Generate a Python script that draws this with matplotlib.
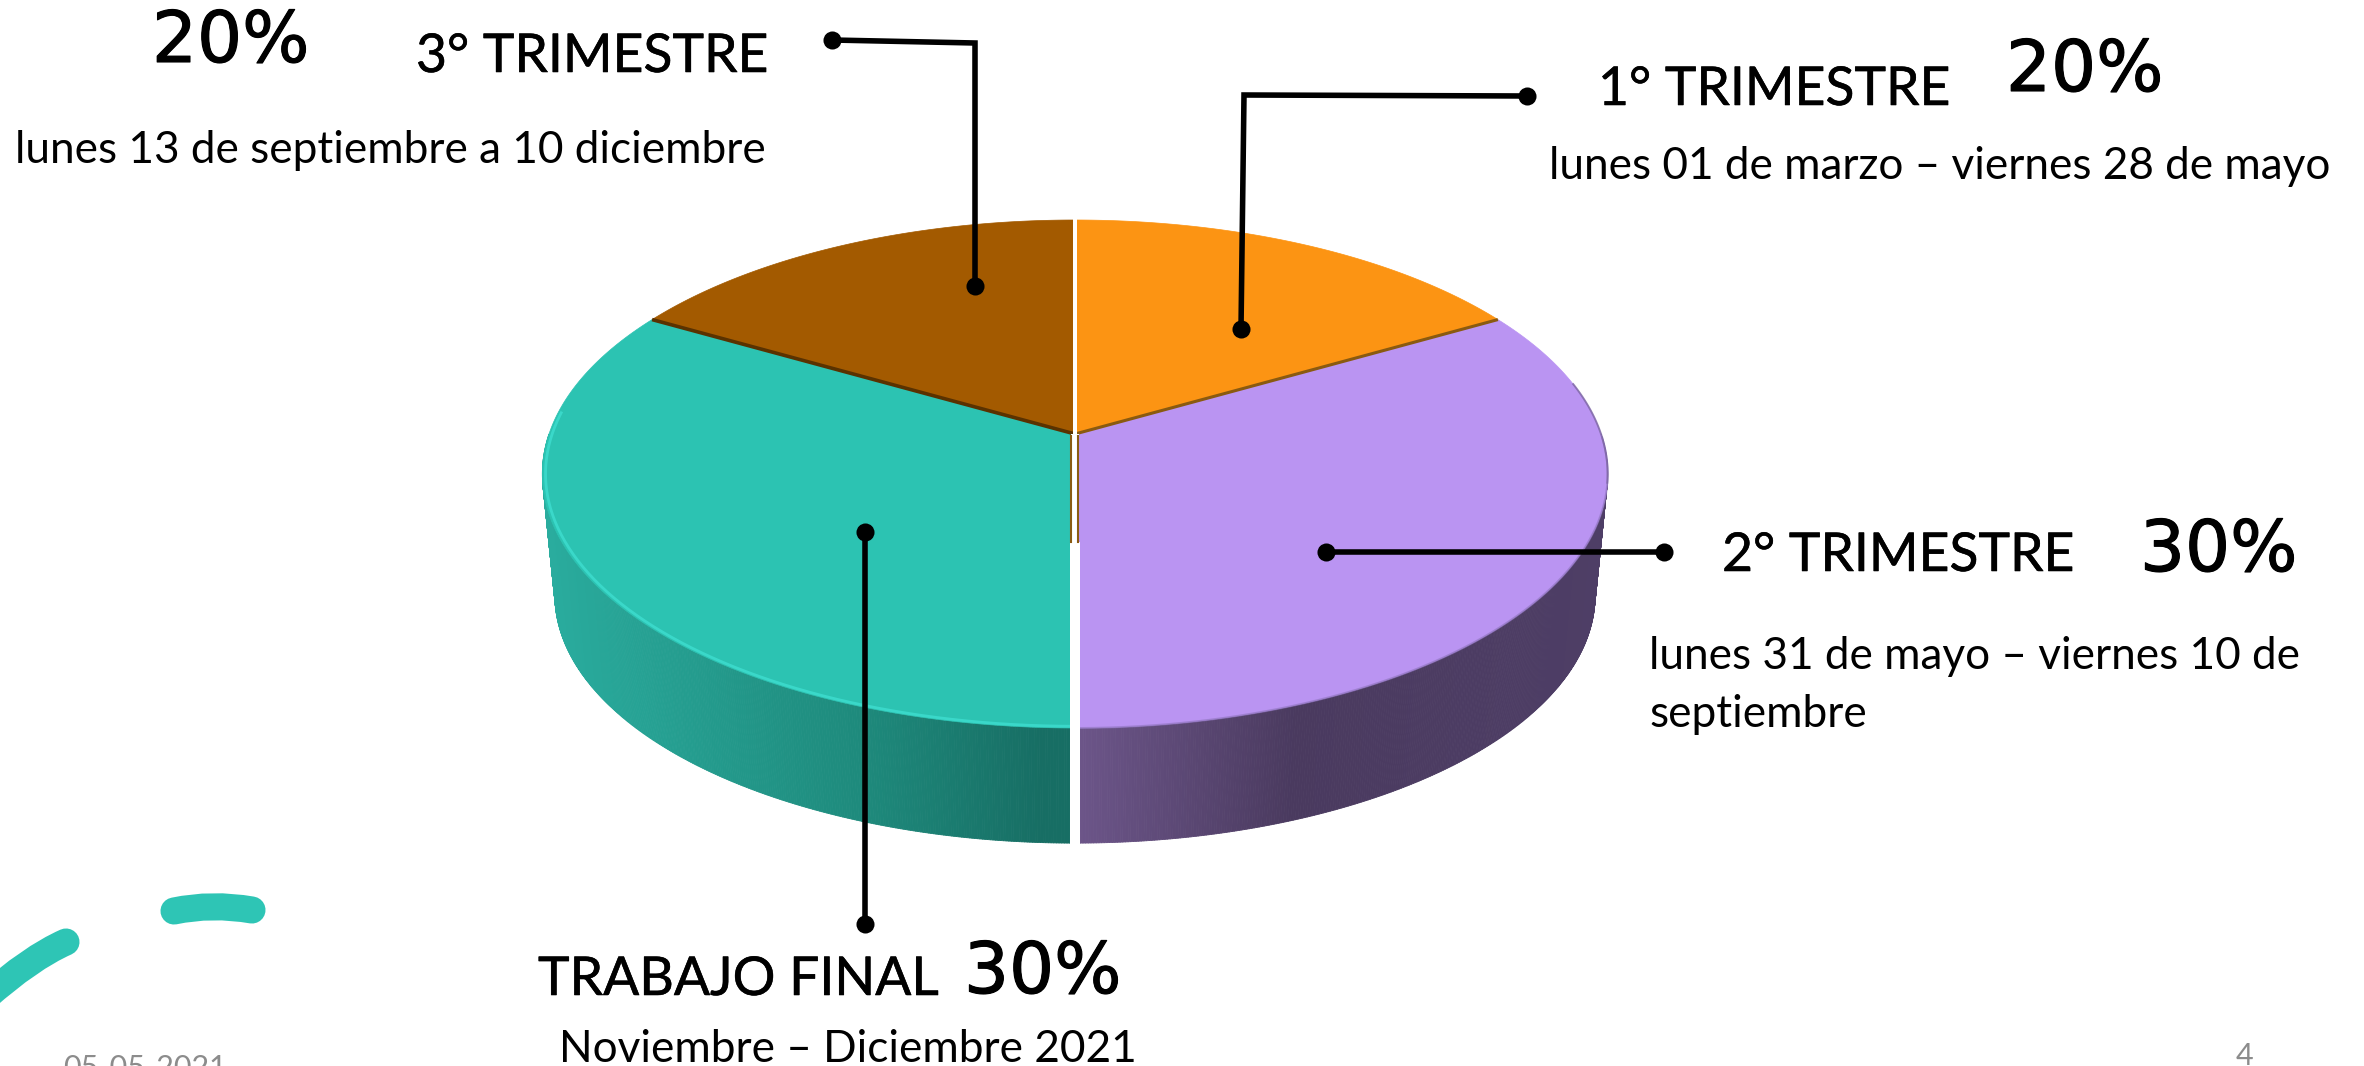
import numpy as np
import matplotlib
matplotlib.use("Agg")
import matplotlib.pyplot as plt
import matplotlib.patheffects as pe
from matplotlib.collections import PolyCollection
from matplotlib.colors import to_rgb
from matplotlib.patches import PathPatch
from matplotlib.path import Path

# ---- data ----
categories = ["1° TRIMESTRE", "2° TRIMESTRE", "TRABAJO FINAL", "3° TRIMESTRE"]
slice_sizes = [16.7, 33.3, 33.3, 16.7]      # drawn share of each slice
percent_labels = ["20%", "30%", "30%", "20%"]
date_labels = ["lunes 01 de marzo – viernes 28 de mayo",
               "lunes 31 de mayo – viernes 10 de",
               "Noviembre – Diciembre 2021",
               "lunes 13 de septiembre a 10 diciembre"]
top_colors = ["#FC9413", "#BA94F2", "#2CC3B2", "#A35A00"]

# ---- layout (pixels of the 2364x1066 slide) ----
W, H = 2364, 1066
fig = plt.figure(figsize=(W / 100, H / 100), dpi=100, facecolor="white")
ax = fig.add_axes([0, 0, 1, 1])
ax.set_xlim(0, W)
ax.set_ylim(H, 0)
ax.axis("off")

CX, CY, R, A, K = 1075.0, 434.0, 526.0, 247.7, 0.1575
BOTTOM_S, BOTTOM_CY = 0.9765, 556.0


def project(theta, scale=1.0, cy=CY):
    """theta in radians, clockwise from the far side of the disc."""
    s, c = np.sin(theta), np.cos(theta)
    d = 1 + K * c
    return CX + scale * R * s / d, cy - scale * A * c / d


def mix(x, xs, cols):
    rgb = np.array([to_rgb(c) for c in cols])
    return np.column_stack([np.interp(x, xs, rgb[:, i]) for i in range(3)])


# side wall
th = np.linspace(np.pi / 2, 3 * np.pi / 2, 721)
x_top, y_top = project(th)
x_bot, y_bot = project(th, BOTTOM_S, BOTTOM_CY)
quads = np.stack([np.column_stack([x_top[:-1], y_top[:-1]]),
                  np.column_stack([x_top[1:], y_top[1:]]),
                  np.column_stack([x_bot[1:], y_bot[1:]]),
                  np.column_stack([x_bot[:-1], y_bot[:-1]])], axis=1)
xm = 0.5 * (x_bot[:-1] + x_bot[1:])
cols = np.where((xm > CX)[:, None],
                mix(xm, [1079, 1290, 1600], ["#6C5589", "#4A3A5F", "#4E3E66"]),
                mix(xm, [545, 700, 865, 1040], ["#2AAD9F", "#249C8E", "#1E8A7C", "#176E64"]))
ax.add_collection(PolyCollection(quads, facecolors=cols, edgecolors=cols, linewidths=0.6, zorder=2))

# top face
edges = np.radians(np.cumsum([0] + slice_sizes) * 3.6)
for a0, a1, col in zip(edges[:-1], edges[1:], top_colors):
    t = np.linspace(a0, a1, 200)
    px, py = project(t)
    ax.fill(np.r_[CX, px], np.r_[CY, py], color=col, lw=0.5, zorder=3)

# dark seams between top slices
for a, col, lw in [(edges[1], "#8A5A10", 2.2), (edges[3], "#5A3200", 2.6)]:
    px, py = project(a)
    ax.plot([CX, px], [CY, py], color=col, lw=lw, zorder=4, solid_capstyle="butt")

# rim light / shade
t = np.linspace(np.pi, np.radians(275), 200)
px, py = project(t, 0.994)
ax.plot(px, py, color="#3DDCCE", lw=2.0, zorder=4, alpha=0.85)
t = np.linspace(np.radians(91), np.pi, 200)
px, py = project(t, 1.0)
ax.plot(px, py, color="#8E74BC", lw=1.4, zorder=4, alpha=0.6)
t = np.linspace(np.radians(78), np.radians(101), 100)
px, py = project(t, 1.0)
ax.plot(px, py, color="#7C66A2", lw=1.4, zorder=4, alpha=0.8)

# slit through the disc
ax.fill_between([1073, 1077], 218, 434, color="white", lw=0, zorder=5)
ax.fill_between([1071, 1079], 434, 542, color="white", lw=0, zorder=5)
for xs in (1071.2, 1078):
    ax.plot([xs, xs], [436, 542], color="#8A5A10", lw=1.5, zorder=6)
ax.fill_between([1070, 1079.5], 542, 846, color="white", lw=0, zorder=5)

# leader lines
leaders = [([1527, 1244, 1241], [96, 95, 329]),
           ([1326, 1664], [552, 552]),
           ([865, 865], [532, 924]),
           ([832, 975, 975], [40, 43, 286])]
for lx, ly in leaders:
    ax.plot(lx, ly, color="black", lw=4.0, zorder=8, solid_joinstyle="miter", solid_capstyle="butt")
    ax.plot([lx[0], lx[-1]], [ly[0], ly[-1]], ls="none", marker="o", ms=13,
            color="black", mew=0, zorder=9)

# decorative strokes
for verts in ([(174, 911), (212, 903), (252, 910)], [(-15, 998), (30, 958), (66, 942)]):
    ax.add_patch(PathPatch(Path(verts, [Path.MOVETO, Path.CURVE3, Path.CURVE3]), fill=False,
                           edgecolor="#2EC5B5", lw=19.5, capstyle="round", zorder=1))

HEAD = dict(family="Lato", fontsize=38.5, color="black", va="baseline", ha="left", zorder=10,
            path_effects=[pe.withStroke(linewidth=0.4, foreground="black")])
PCT = dict(family="DejaVu Sans", fontsize=51, color="black", va="baseline", ha="left", zorder=10,
           path_effects=[pe.withStroke(linewidth=0.8, foreground="black")])
BODY = dict(family="Lato", fontsize=31.8, color="black", va="baseline", ha="left", zorder=10)
FOOT = dict(family="Lato", fontsize=22, color="#8C8C8C", va="baseline", ha="left", zorder=10)

ax.text(1598, 105, categories[0], **HEAD)
ax.text(2006, 91, percent_labels[0], **PCT)
ax.text(1549, 179, date_labels[0], **BODY)

ax.text(1722, 571, categories[1], **HEAD)
ax.text(2140, 571, percent_labels[1], **PCT)
ax.text(1649, 669, date_labels[1], **BODY)
ax.text(1649, 727, "septiembre", **BODY)

ax.text(538, 995, categories[2], **HEAD)
ax.text(964, 993, percent_labels[2], **PCT)
ax.text(559, 1062, date_labels[2], **BODY)

ax.text(416, 72, categories[3], **HEAD)
ax.text(152, 62, percent_labels[3], **PCT)
ax.text(15, 163, date_labels[3], **BODY)

ax.text(63, 1077, "05-05-2021", **FOOT)
ax.text(2236, 1065, "4", **FOOT)

fig.savefig("out.png", dpi=100, facecolor="white")
